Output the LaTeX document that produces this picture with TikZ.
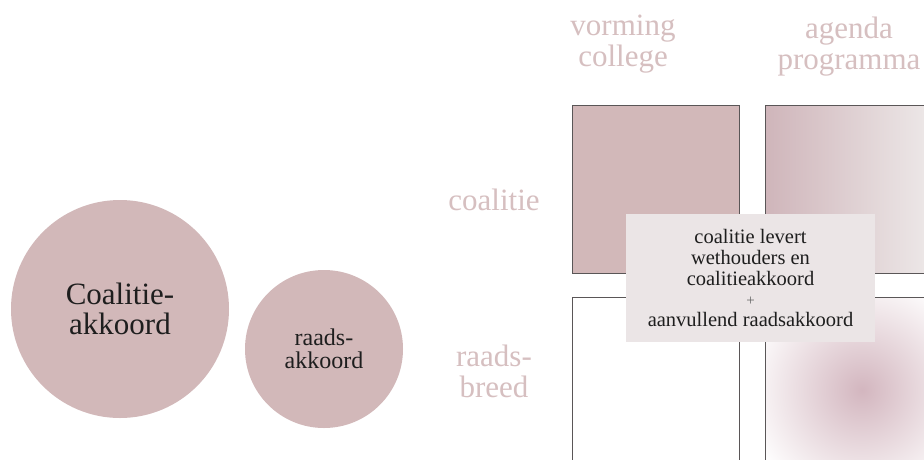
\documentclass[tikz,border=0pt]{standalone}
\usepackage{fontspec}
\setmainfont{Liberation Serif}
\begin{document}
\begin{tikzpicture}[x=1pt,y=-1pt,
  bubble/.style={circle,fill=circfill,inner sep=0pt,align=center,text=txtdark},
  axislbl/.style={text=lblpink,align=center,font=\fontsize{31}{31}\selectfont,inner sep=0pt},
  cell/.style={draw=cellline,line width=0.9pt}]
\definecolor{circfill}{HTML}{D2B8B9}
\definecolor{txtdark}{HTML}{1E1E1E}
\definecolor{lblpink}{HTML}{D6BFC0}
\definecolor{cellline}{HTML}{5A5657}
\definecolor{boxfill}{HTML}{EBE5E6}
\definecolor{gradL}{HTML}{CFB5BA}
\definecolor{gradR}{HTML}{EDE8E8}
\definecolor{radC}{HTML}{D3B6BF}
\useasboundingbox (0,0) rectangle (924,459);
\clip (0,0) rectangle (924,459);
\fill[white] (0,0) rectangle (924,459);
% circles
\node[bubble,minimum size=218pt,font=\fontsize{31}{30}\selectfont] (ca) at (120,309) {Coalitie-\\akkoord};
\node[bubble,minimum size=158pt,font=\fontsize{24}{23}\selectfont] (ra) at (324,349) {raads-\\akkoord};
% axis labels
\node[axislbl] (vc) at (623,44) {vorming\\college};
\node[axislbl] (ap) at (849,47) {agenda\\programma};
\node[axislbl] (co) at (494,200) {coalitie};
\node[axislbl] (rb) at (494,371) {raads-\\breed};
% cells
\fill[circfill] (572,105) rectangle (739,273);
\draw[cell] (572,105) rectangle (739,273);
\shade[left color=gradL,right color=gradR] (765,105) rectangle (930,273);
\draw[cell] (765,105) rectangle (930,273);
\draw[cell] (572,297) rectangle (739,470);
\begin{scope}
\clip (765,297) rectangle (930,470);
\fill[white] (765,297) rectangle (930,470);
\shade[inner color=radC,outer color=white] (862,390) circle (120);
\end{scope}
\draw[cell] (765,297) rectangle (930,470);
% overlay box
\node[fill=boxfill,minimum width=249pt,minimum height=128pt,inner sep=0pt] (ov) at (750.5,278) {};
\node[text=txtdark,align=center,font=\fontsize{20.5}{20.7}\selectfont,inner sep=0pt] (ovt) at (ov.center)
  {coalitie levert\\wethouders en\\coalitieakkoord\\{\fontsize{15}{15}\selectfont\color{black!60}+}\\aanvullend raadsakkoord};
\end{tikzpicture}
\end{document}
